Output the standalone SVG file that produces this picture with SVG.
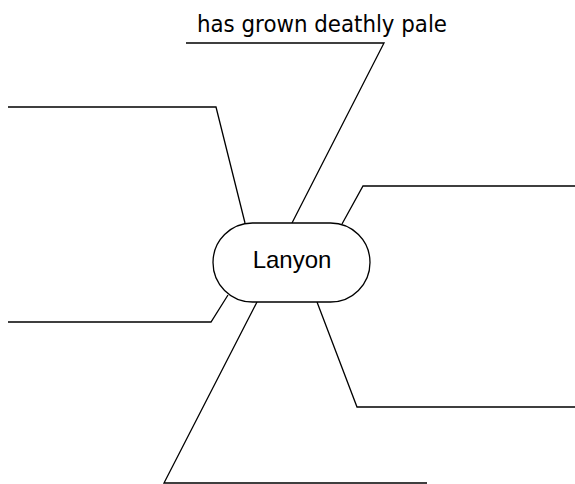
<svg xmlns="http://www.w3.org/2000/svg" width="575" height="484" viewBox="0 0 575 484">
<style>
.c{fill:none;stroke:#000;stroke-width:1.3;stroke-linejoin:miter}
.n{fill:#fff;stroke:#000;stroke-width:1.3}
.t{font-family:"Liberation Sans",Arial,sans-serif;font-size:24px;fill:#000}
.l{font-family:"DejaVu Sans","Liberation Sans",sans-serif;font-size:23px;fill:#000}
</style>
<rect width="575" height="484" fill="#fff"/>
<g id="connectors">
<polyline class="c" points="8,107 216,107 245,223"/>
<polyline class="c" points="186,43 384,43 292,223"/>
<polyline class="c" points="575,186 363,186 342,224"/>
<polyline class="c" points="8,322 211,322 228,295"/>
<polyline class="c" points="257,302 164,483 427,483"/>
<polyline class="c" points="317,302 357,407 575,407"/>
</g>
<g id="label-top">
<text class="l" x="197" y="32" textLength="250" lengthAdjust="spacingAndGlyphs">has grown deathly pale</text>
</g>
<g id="node-lanyon">
<rect class="n" x="213" y="223" width="157" height="79" rx="39.5" ry="39.5"/>
<text class="t" x="292" y="268" text-anchor="middle">Lanyon</text>
</g>
</svg>
